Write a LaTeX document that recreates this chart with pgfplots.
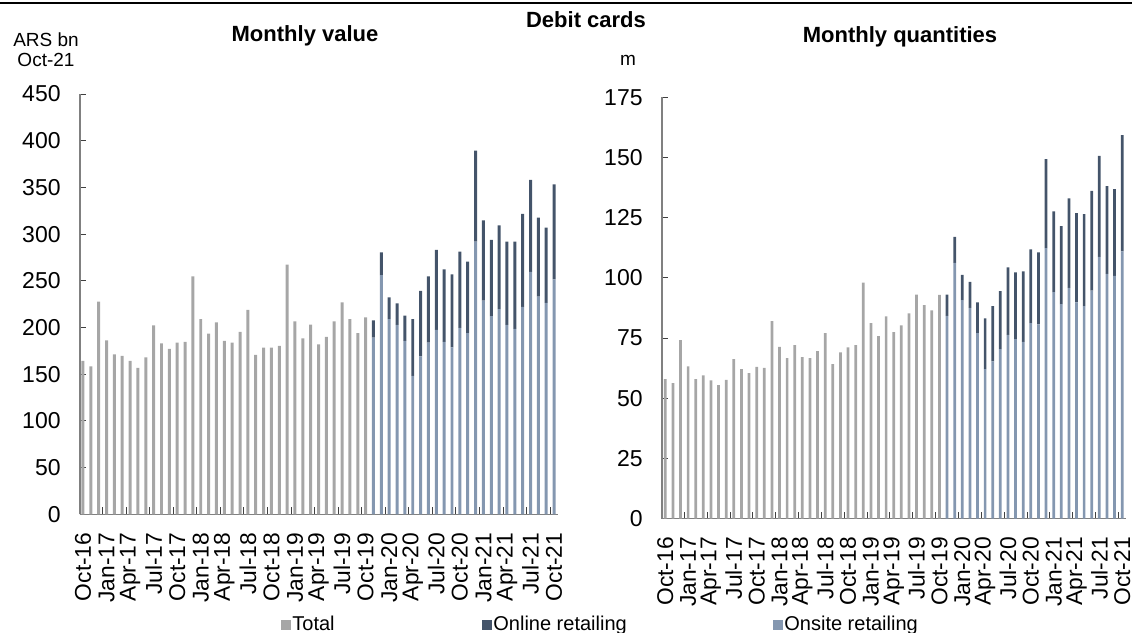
\documentclass[border=0pt]{standalone}
\usepackage{pgfplots}
\pgfplotsset{compat=1.18}
\usepackage{pgfplotstable}
\usepackage{fontspec}
\setmainfont{Liberation Sans}
\definecolor{cTot}{HTML}{A6A6A6}
\definecolor{cOnl}{HTML}{44546A}
\definecolor{cOns}{HTML}{8497B0}

% value, ARS bn: x, total (gray), onsite, online
\pgfplotstableread{
x g on ol
0 164.2 0 0
1 158.5 0 0
2 227.7 0 0
3 186.3 0 0
4 171.3 0 0
5 169.5 0 0
6 164.2 0 0
7 156.7 0 0
8 168.1 0 0
9 202.4 0 0
10 183.1 0 0
11 177.0 0 0
12 183.8 0 0
13 184.5 0 0
14 254.8 0 0
15 209.1 0 0
16 193.4 0 0
17 205.6 0 0
18 185.6 0 0
19 183.8 0 0
20 195.2 0 0
21 218.8 0 0
22 170.6 0 0
23 178.4 0 0
24 178.4 0 0
25 180.2 0 0
26 267.3 0 0
27 206.6 0 0
28 188.4 0 0
29 203.1 0 0
30 182.0 0 0
31 189.9 0 0
32 206.6 0 0
33 227.0 0 0
34 209.1 0 0
35 194.1 0 0
36 210.9 0 0
37 0 189.1 18.6
38 0 256.2 24.3
39 0 209.1 23.2
40 0 202.7 23.2
41 0 185.6 27.1
42 0 148.1 61.0
43 0 169.2 69.9
44 0 183.8 71.0
45 0 197.4 85.6
46 0 184.5 77.8
47 0 178.8 78.2
48 0 199.5 81.7
49 0 194.1 76.4
50 0 291.9 97.5
51 0 228.8 86.0
52 0 212.3 81.4
53 0 219.8 89.6
54 0 202.7 89.2
55 0 198.4 93.5
56 0 222.0 99.6
57 0 259.5 98.5
58 0 233.0 84.6
59 0 226.3 80.6
60 0 251.6 101.7
}\valtab

% quantities, m
\pgfplotstableread{
x g on ol
0 58.0 0 0
1 56.3 0 0
2 74.2 0 0
3 63.3 0 0
4 58.0 0 0
5 59.5 0 0
6 57.4 0 0
7 55.5 0 0
8 57.7 0 0
9 66.3 0 0
10 62.1 0 0
11 60.5 0 0
12 63.0 0 0
13 62.6 0 0
14 82.1 0 0
15 71.4 0 0
16 66.7 0 0
17 72.1 0 0
18 67.1 0 0
19 66.7 0 0
20 69.6 0 0
21 77.1 0 0
22 64.2 0 0
23 69.1 0 0
24 71.1 0 0
25 72.1 0 0
26 98.0 0 0
27 81.2 0 0
28 75.8 0 0
29 84.0 0 0
30 77.5 0 0
31 80.3 0 0
32 85.3 0 0
33 93.1 0 0
34 88.7 0 0
35 86.5 0 0
36 92.9 0 0
37 0 84.2 8.9
38 0 106.2 10.8
39 0 90.8 10.5
40 0 87.5 10.8
41 0 77.1 12.7
42 0 62.1 21.1
43 0 65.3 23.0
44 0 70.4 24.1
45 0 76.3 28.1
46 0 74.6 27.7
47 0 73.4 29.3
48 0 81.2 30.6
49 0 80.7 29.9
50 0 112.4 36.9
51 0 94.1 33.5
52 0 89.1 32.4
53 0 95.9 37.1
54 0 89.8 37.1
55 0 88.3 38.2
56 0 94.7 41.4
57 0 108.7 42.0
58 0 101.7 36.4
59 0 100.8 36.1
60 0 111.0 48.3
}\qtytab

\pgfplotsset{
  panel/.style={
    scale only axis,
    ybar stacked,
    ymin=0,
    xmax=60.5,
    axis x line*=bottom,
    axis y line*=left,
    axis line style={draw=black!50, line width=0.75pt},
    tick align=inside,
    major tick length=2.8pt,
    minor tick length=3.5pt,
    tick style={draw=black!75, line width=0.5pt},
    major x tick style={draw=none},
    xtick={0,3,...,60},
    minor xtick={2.5,5.5,...,59.5},
    xticklabels={Oct-16,Jan-17,Apr-17,Jul-17,Oct-17,Jan-18,Apr-18,Jul-18,Oct-18,Jan-19,Apr-19,Jul-19,Oct-19,Jan-20,Apr-20,Jul-20,Oct-20,Jan-21,Apr-21,Jul-21,Oct-21},
    xticklabel style={font=\fontsize{11.4}{13}\selectfont, rotate=90, anchor=east, inner sep=0pt},
    xticklabel shift=9pt,
    yticklabel style={font=\fontsize{11.5}{13}\selectfont, inner sep=0pt},
    yticklabel shift=9.5pt,
    /pgf/number format/assume math mode=true,
    every axis plot/.append style={draw=none},
    legend image code/.code={\fill[##1] (0pt,-2.5pt) rectangle (5pt,2.5pt);},
  }
}

\begin{document}
\begin{tikzpicture}
\useasboundingbox (0,0) rectangle (566pt,316.5pt);
\draw[line width=1pt] (0,315pt) -- (566pt,315pt);

\begin{axis}[panel,
  at={(40pt,59.35pt)}, anchor=south west,
  width=239pt, height=210.15pt,
  xmin=-0.38, ymax=450, ytick={0,50,...,450},
  bar width=0.38,
  legend columns=3,
  legend cell align=left,
  legend style={at={(0.4205,-0.2634)}, anchor=west, draw=none, fill=none,
    inner sep=0pt, nodes={inner sep=0.5pt},
    font=\fontsize{10}{12}\selectfont,
    /tikz/every even column/.append style={column sep=0pt}},
  legend entries={\makebox[94.5pt][l]{Total},\makebox[139.5pt][l]{Online retailing},Onsite retailing},
]
\addlegendimage{fill=cTot}
\addlegendimage{fill=cOnl}
\addlegendimage{fill=cOns}
\addplot[fill=cTot] table[x=x,y=g] {\valtab};
\addplot[fill=cOns] table[x=x,y=on] {\valtab};
\addplot[fill=cOnl] table[x=x,y=ol] {\valtab};
\end{axis}

\begin{axis}[panel,
  at={(331pt,57.15pt)}, anchor=south west,
  width=232pt, height=210.7pt,
  xmin=-0.43, ymax=175, ytick={0,25,...,175},
  bar width=0.36,
]
\addplot[fill=cTot] table[x=x,y=g] {\qtytab};
\addplot[fill=cOns] table[x=x,y=on] {\qtytab};
\addplot[fill=cOnl] table[x=x,y=ol] {\qtytab};
\end{axis}

\node[font=\bfseries\fontsize{11}{13}\selectfont] at (293pt,306.5pt) {Debit cards};
\node[font=\bfseries\fontsize{11}{13}\selectfont] at (152.5pt,298.5pt) {Monthly value};
\node[font=\bfseries\fontsize{11}{13}\selectfont] at (450pt,298pt) {Monthly quantities};
\node[font=\fontsize{9.5}{11}\selectfont] at (23pt,296.5pt) {ARS bn};
\node[font=\fontsize{9.5}{11}\selectfont] at (23pt,286.5pt) {Oct-21};
\node[font=\fontsize{9.5}{11}\selectfont] at (314pt,286.5pt) {m};
\end{tikzpicture}
\end{document}
